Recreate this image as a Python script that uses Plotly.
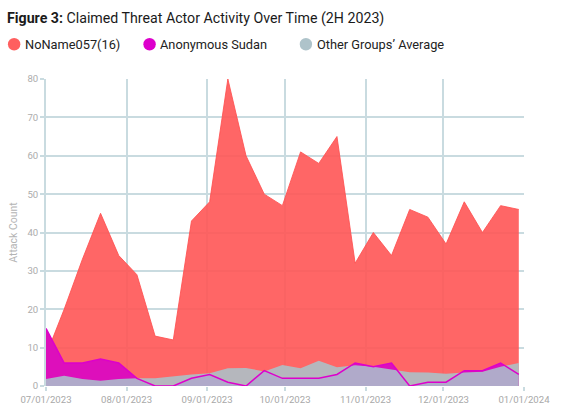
import plotly.graph_objects as go

# ---- data ----
dates = ["2023-07-01", "2023-07-08", "2023-07-15", "2023-07-22", "2023-07-29",
         "2023-08-05", "2023-08-12", "2023-08-19", "2023-08-26", "2023-09-02",
         "2023-09-09", "2023-09-16", "2023-09-23", "2023-09-30", "2023-10-07",
         "2023-10-14", "2023-10-21", "2023-10-28", "2023-11-04", "2023-11-11",
         "2023-11-18", "2023-11-25", "2023-12-02", "2023-12-09", "2023-12-16",
         "2023-12-23", "2023-12-30"]
noname = [8, 20, 33, 45, 34, 29, 13, 12, 43, 48, 80, 60, 50, 47, 61, 58, 65, 32,
          40, 34, 46, 44, 37, 48, 40, 47, 46]
anon_sudan = [15, 6, 6, 7, 6, 2, 0, 0, 2, 3, 1, 0, 4, 2, 2, 2, 3, 6,
              5, 6, 0, 1, 1, 4, 4, 6, 3]
others_avg = [1.8, 2.7, 1.8, 1.4, 1.8, 2.0, 2.0, 2.5, 3.0, 3.3, 4.6, 4.7, 3.8, 5.5,
              4.6, 6.6, 4.9, 5.4, 5.0, 4.3, 3.6, 3.5, 3.2, 3.5, 3.7, 5.0, 6.0]
series_names = ["NoName057(16)", "Anonymous Sudan", "Other Groups\u2019 Average"]
tick_dates = ["2023-07-01", "2023-08-01", "2023-09-01", "2023-10-01",
              "2023-11-01", "2023-12-01", "2024-01-01"]
tick_labels = ["07/01/2023", "08/01/2023", "09/01/2023", "10/01/2023",
               "11/01/2023", "12/01/2023", "01/01/2024"]

RED_FILL = "rgba(255,85,85,0.9)"
RED_LINE = "rgba(255,80,80,0.85)"
MAG_FILL = "#dd0fbb"
MAG_LINE = "#dd00cc"
GREY_FILL = "rgba(168,198,204,0.85)"
GRID = "#c9dbe0"
FONT = "Roboto"

fig = go.Figure()
fig.add_trace(go.Scatter(x=dates, y=noname, name=series_names[0], mode="lines",
                         fill="tozeroy", fillcolor=RED_FILL,
                         line=dict(color=RED_LINE, width=1), showlegend=False))
fig.add_trace(go.Scatter(x=dates, y=anon_sudan, name=series_names[1], mode="lines",
                         fill="tozeroy", fillcolor=MAG_FILL,
                         line=dict(color=MAG_FILL, width=0), showlegend=False))
fig.add_trace(go.Scatter(x=dates, y=others_avg, name=series_names[2], mode="lines",
                         fill="tozeroy", fillcolor=GREY_FILL,
                         line=dict(color=GREY_FILL, width=0), showlegend=False))
fig.add_trace(go.Scatter(x=dates, y=anon_sudan, mode="lines", hoverinfo="skip",
                         line=dict(color=MAG_LINE, width=1.5), showlegend=False))

W, H = 564, 417
L, R, T, B = 44, 40, 79, 20
pw, ph = W - L - R, H - T - B


def px_x(px):
    return (px - L) / pw


def px_y(py):
    return (H - B - py) / ph


legend_items = [
    (12, 23, "#ff5f5f", series_names[0]),
    (148, 158, "#dd00cc", series_names[1]),
    (305, 316, "#aec3ca", series_names[2]),
]
shapes = []
annotations = []
for cx, tx, col, label in legend_items:
    shapes.append(dict(type="circle", xref="paper", yref="paper",
                       xsizemode="pixel", ysizemode="pixel",
                       xanchor=px_x(cx), yanchor=px_y(43),
                       x0=-6.2, x1=6.2, y0=-6.2, y1=6.2,
                       fillcolor=col, line=dict(width=0)))
    annotations.append(dict(text=label, xref="paper", yref="paper",
                            x=px_x(tx - 2), y=px_y(43), xanchor="left", yanchor="middle",
                            showarrow=False, font=dict(family=FONT, size=12.8, color="#222222")))

fig.update_layout(
    width=W, height=H,
    margin=dict(l=L, r=R, t=T, b=B),
    paper_bgcolor="white", plot_bgcolor="white",
    title=dict(text="<b>Figure 3:</b> Claimed Threat Actor Activity Over Time (2H 2023)",
               x=7 / W, xanchor="left", xref="container",
               y=1 - 18 / H, yanchor="middle", yref="container",
               font=dict(family=FONT, size=14.2, color="#1a1a1a")),
    shapes=shapes,
    annotations=annotations,
    showlegend=False,
    xaxis=dict(type="date", range=["2023-07-01", "2024-01-01"],
               tickvals=tick_dates, ticktext=tick_labels,
               showgrid=True, gridcolor=GRID, gridwidth=1.6,
               ticks="outside", ticklen=4, tickcolor=GRID, tickwidth=1.6,
               showline=False, zeroline=False,
               tickfont=dict(family=FONT, size=9.6, color="#a8a8a8")),
    yaxis=dict(range=[0, 80], dtick=10,
               showgrid=True, gridcolor=GRID, gridwidth=1.6,
               ticks="outside", ticklen=4, tickcolor=GRID, tickwidth=1.6,
               showline=True, linecolor=GRID, linewidth=1.6, zeroline=False,
               title=dict(text="Attack Count", standoff=8,
                          font=dict(family=FONT, size=10.5, color="#b4b4b4")),
               tickfont=dict(family=FONT, size=9.6, color="#acacac")),
)

fig.write_html("out.html", config={"displayModeBar": False},
               post_script="document.body.style.margin='0';document.body.style.padding='0';")
